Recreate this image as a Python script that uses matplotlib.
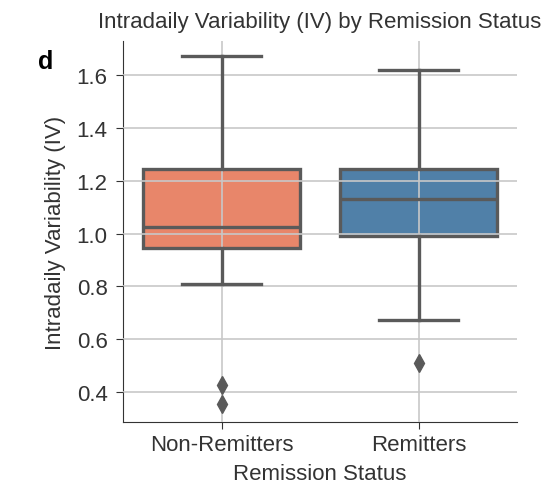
import matplotlib.pyplot as plt

# box stats
groups = ["Non-Remitters", "Remitters"]
whislo = [0.81, 0.672]
q1 = [0.945, 0.99]
med = [1.025, 1.133]
q3 = [1.245, 1.245]
whishi = [1.672, 1.62]
fliers = [[0.425, 0.353], [0.51]]
colors = ["#E8866A", "#5080A8"]

plt.rcParams['font.family'] = ['Liberation Sans', 'DejaVu Sans']

fig = plt.figure(figsize=(5.49, 4.89), dpi=100)
ax = fig.add_axes([123 / 549, 1 - 423 / 489, 394 / 549, 381 / 489])

stats = []
for i in range(len(groups)):
    stats.append(dict(label=groups[i], whislo=whislo[i], q1=q1[i], med=med[i],
                      q3=q3[i], whishi=whishi[i], fliers=fliers[i]))

gray = "#5a5a5a"
lw = 2.4
bp = ax.bxp(stats, positions=range(len(groups)), widths=0.8, patch_artist=True,
            boxprops=dict(edgecolor=gray, linewidth=lw, zorder=2),
            medianprops=dict(color=gray, linewidth=lw, zorder=3),
            whiskerprops=dict(color=gray, linewidth=lw, zorder=3),
            capprops=dict(color=gray, linewidth=lw, zorder=3),
            flierprops=dict(marker='d', markerfacecolor=gray, markeredgecolor=gray,
                            markersize=9, zorder=3))
for patch, c in zip(bp['boxes'], colors):
    patch.set_facecolor(c)
for cap in bp['caps']:
    x = cap.get_xdata()
    mid = (x[0] + x[1]) / 2
    cap.set_xdata([mid - 0.2, mid + 0.2])

ax.set_xlim(-0.5, 1.5)
ax.set_ylim(0.286, 1.73)
ax.set_yticks([0.4, 0.6, 0.8, 1.0, 1.2, 1.4, 1.6])
ax.grid(True, color="#c8c8c8", linewidth=1.2)
ax.set_axisbelow(False)  # grid over the boxes, under the whiskers
for s in ['top', 'right']:
    ax.spines[s].set_visible(False)
ax.tick_params(labelsize=16, colors="#333333", labelcolor="#333333", length=5)
ax.tick_params(axis='y', pad=6)
for s in ['left', 'bottom']:
    ax.spines[s].set_color("#333333")

ax.set_title("Intradaily Variability (IV) by Remission Status", fontsize=16, color="#333333", pad=10)
ax.set_xlabel("Remission Status", fontsize=16, color="#333333", labelpad=6)
ax.set_ylabel("Intradaily Variability (IV)", fontsize=16, color="#333333", labelpad=8)
fig.text(38 / 549, 1 - 62 / 489, "d", fontsize=18, fontweight='bold', va='center')

fig.savefig("out.png", dpi=100)
